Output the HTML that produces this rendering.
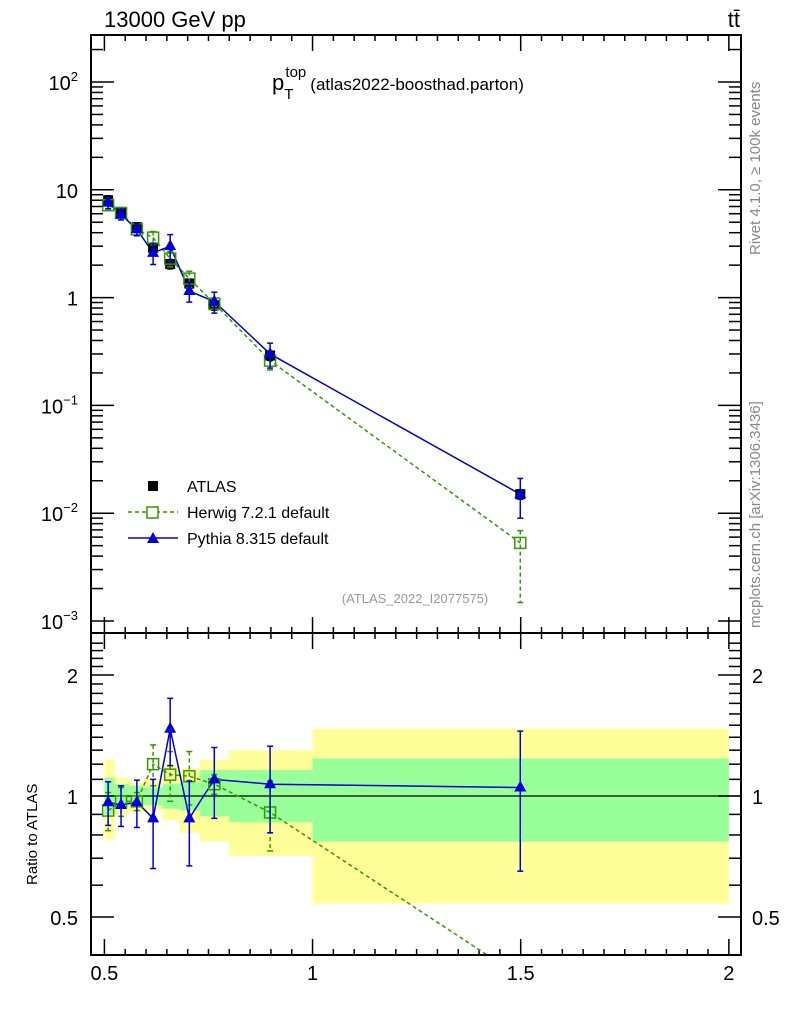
<!DOCTYPE html>
<html><head><meta charset="utf-8"><style>
body{margin:0;background:#fff;}
svg{display:block;font-family:"Liberation Sans",sans-serif;}
</style></head><body>
<svg id="chart" width="786" height="1024" viewBox="0 0 786 1024">
<defs><clipPath id="rclip"><rect x="91" y="633" width="650" height="322"/></clipPath></defs>
<g id="bands"></g>
<g id="grid"></g>
<g id="series"></g>
<g id="rseries" clip-path="url(#rclip)"></g>
<rect x="91" y="35" width="650" height="598" fill="none" stroke="#000" stroke-width="2"/>
<rect x="91" y="633" width="650" height="322" fill="none" stroke="#000" stroke-width="2"/>
<text x="104" y="27" font-size="22">13000 GeV pp</text>
<text x="740" y="27" font-size="22" text-anchor="end">tt̄</text>
<text x="272" y="90" font-size="22">p<tspan font-size="15" dy="9">T</tspan><tspan font-size="15" dx="-8" dy="-22">top</tspan><tspan font-size="17" dy="13" dx="4">(atlas2022-boosthad.parton)</tspan></text>
<text x="415" y="603" font-size="13" fill="#999" text-anchor="middle">(ATLAS_2022_I2077575)</text>
<text transform="translate(760,255) rotate(-90)" font-size="15" fill="#888">Rivet 4.1.0, ≥ 100k events</text>
<text transform="translate(760,628) rotate(-90)" font-size="15" fill="#888">mcplots.cern.ch [arXiv:1306.3436]</text>
<text transform="translate(37,885) rotate(-90)" font-size="15">Ratio to ATLAS</text>
<g>
<rect x="148" y="481" width="10" height="10" fill="#000"/>
<text x="187" y="492" font-size="16">ATLAS</text>
<line x1="128" y1="512" x2="178" y2="512" stroke="#339900" stroke-width="1.5" stroke-dasharray="4,3"/>
<rect x="147" y="507" width="11" height="11" fill="#fff" stroke="#339900" stroke-width="1.5"/>
<text x="187" y="518" font-size="16">Herwig 7.2.1 default</text>
<line x1="128" y1="538" x2="178" y2="538" stroke="#0000dd" stroke-width="1.5"/>
<polygon points="153,532 147,543 159,543" fill="#0000dd"/>
<text x="187" y="544" font-size="16">Pythia 8.315 default</text>
</g>
</svg>
<script>
const xs=[0.509,0.54,0.578,0.617,0.658,0.704,0.764,0.898,1.499];
const binEdges=[0.5,0.525,0.56,0.595,0.64,0.68,0.73,0.8,1.0,2.0];
const atlas=[8,6.2,4.5,2.9,2.05,1.35,0.85,0.29,0.015];
const herwig=[7.2,6.1,4.3,3.6,2.3,1.5,0.88,0.26,0.0053];
const pythia=[7.6,5.9,4.3,2.6,3.0,1.15,0.92,0.3,0.015];
const herwigRatio=[0.92,0.97,0.97,1.2,1.13,1.12,1.07,0.91,0.355];
const pythiaRatio=[0.965,0.95,0.965,0.88,1.47,0.88,1.1,1.07,1.05];
const herwigErr=[0.1,0.08,0.05,0.14,0.16,0.17,0.06,0.18,0.3];
const pythiaErr=[0.12,0.11,0.13,0.22,0.28,0.21,0.22,0.26,0.4];
const yellowUp=[1.23,1.11,1.08,1.1,1.2,1.17,1.23,1.3,1.47];
const yellowDn=[0.78,0.9,0.91,0.92,0.87,0.81,0.77,0.71,0.54];
const greenUp=[1.11,1.07,1.06,1.05,1.07,1.08,1.16,1.16,1.24];
const greenDn=[0.9,0.95,0.95,0.95,0.93,0.92,0.89,0.86,0.77];
const mainTicks=["10<tspan font-size='13' dy='-9'>2</tspan>","10","1","10<tspan font-size='13' dy='-9'>−1</tspan>","10<tspan font-size='13' dy='-9'>−2</tspan>","10<tspan font-size='13' dy='-9'>−3</tspan>"];
const xTickLabels=["0.5","1","1.5","2"];

const X=v=>104.4+(v-0.5)*416.3;
const Y=v=>82+(2-Math.log10(v))*107.8;
const R=v=>796-Math.log2(v)*121;
const NS="http://www.w3.org/2000/svg";
function mk(tag,at,parent){const e=document.createElementNS(NS,tag);for(const k in at)e.setAttribute(k,at[k]);document.getElementById(parent).appendChild(e);return e;}

for(let i=0;i<9;i++){
 const x1=X(binEdges[i]),x2=X(binEdges[i+1]);
 const y=mk('rect',{x:x1,y:R(yellowUp[i]),width:x2-x1,height:R(yellowDn[i])-R(yellowUp[i]),fill:'#ffff99'},'bands');
 
 
 const g=mk('rect',{x:x1,y:R(greenUp[i]),width:x2-x1,height:R(greenDn[i])-R(greenUp[i]),fill:'#99ff99'},'bands');
 
 
}
mk('line',{x1:91,x2:741,y1:R(1),y2:R(1),stroke:'#000','stroke-width':1.2},'bands');

for(const top of [[35,633],[633,955]]){
 for(let v=0.5;v<=2.001;v+=0.05){
  const maj=Math.abs(v*2-Math.round(v*2))<1e-6;
  const x=X(v),L=maj?16:6;
  mk('line',{x1:x,x2:x,y1:top[0],y2:top[0]+L,stroke:'#000','stroke-width':1.5},'grid');
  mk('line',{x1:x,x2:x,y1:top[1],y2:top[1]-L,stroke:'#000','stroke-width':1.5},'grid');
 }
}
xTickLabels.forEach((t,i)=>{const e=mk('text',{x:X(0.5+i*0.5),y:980,'font-size':20,'text-anchor':'middle'},'grid');e.textContent=t;
 
 });
for(let d=-3;d<=2;d++){
 for(let m=1;m<10;m++){
  const v=m*Math.pow(10,d);const y=Y(v);if(y<36)continue;
  const L=m==1?23:12;
  mk('line',{x1:91,x2:91+L,y1:y,y2:y,stroke:'#000','stroke-width':1.5},'grid');
  mk('line',{x1:741,x2:741-L,y1:y,y2:y,stroke:'#000','stroke-width':1.5},'grid');
 }
}
mainTicks.forEach((t,i)=>{const e=mk('text',{x:78,y:Y(Math.pow(10,2-i))+8,'font-size':20,'text-anchor':'end'},'grid');e.innerHTML=t;
 
 });
for(let v=0.5;v<=2.5;v+=0.1){
 const y=R(v);if(y<634||y>954)continue;
 const maj=Math.abs(v-0.5)<1e-6||Math.abs(v-1)<1e-6||Math.abs(v-2)<1e-6;
 const L=maj?23:12;
 mk('line',{x1:91,x2:91+L,y1:y,y2:y,stroke:'#000','stroke-width':1.5},'grid');
 mk('line',{x1:741,x2:741-L,y1:y,y2:y,stroke:'#000','stroke-width':1.5},'grid');
}
for(const v of [0.5,1,2]){
 for(const [x,a] of [[78,'end'],[752,'start']]){
  const e=mk('text',{x:x,y:R(v)+8,'font-size':20,'text-anchor':a},'grid');e.textContent=String(v);
  
  
 }
}

function polyline(vals,f,color,dash,name,parent){
 const p=mk('polyline',{points:xs.map((x,i)=>X(x)+','+f(vals[i])).join(' '),fill:'none',stroke:color,'stroke-width':1.5,'stroke-dasharray':dash},parent);
 
 
}
function errbar(x,y1,y2,color,dash,parent){
 mk('line',{x1:x,x2:x,y1:y1,y2:y2,stroke:color,'stroke-width':1.5,'stroke-dasharray':dash},parent);
 mk('line',{x1:x-3,x2:x+3,y1:y1,y2:y1,stroke:color,'stroke-width':1.5},parent);
 mk('line',{x1:x-3,x2:x+3,y1:y2,y2:y2,stroke:color,'stroke-width':1.5},parent);
}
polyline(herwig,Y,'#339900','4,3','herwig-line','series');
polyline(pythia,Y,'#0000dd','','pythia-line','series');
xs.forEach((x,i)=>{
 const px=X(x);
 errbar(px,Y(atlas[i]*1.1),Y(atlas[i]*0.9),'#000','','series');
 const a=mk('rect',{x:px-5,y:Y(atlas[i])-5,width:10,height:10,fill:'#000'},'series');
 
 
 errbar(px,Y(herwig[i]*(1+herwigErr[i])),Y(herwig[i]*Math.max(0.05,1-herwigErr[i]*(i==8?2.4:1))),'#339900','4,3','series');
 const h=mk('rect',{x:px-5.5,y:Y(herwig[i])-5.5,width:11,height:11,fill:'none',stroke:'#339900','stroke-width':1.5},'series');
 
 
 errbar(px,Y(pythia[i]*(1+pythiaErr[i])),Y(pythia[i]*(1-pythiaErr[i])),'#0000dd','','series');
 const py=Y(pythia[i]);
 const t=mk('polygon',{points:`${px},${py-7} ${px-6},${py+4} ${px+6},${py+4}`,fill:'#0000dd'},'series');
 
 
});
polyline(herwigRatio,R,'#339900','4,3','herwig-ratio-line','rseries');
polyline(pythiaRatio,R,'#0000dd','','pythia-ratio-line','rseries');
xs.forEach((x,i)=>{
 const px=X(x);
 if(R(herwigRatio[i])<950){
  errbar(px,R(herwigRatio[i]+herwigErr[i]),R(herwigRatio[i]-herwigErr[i]),'#339900','4,3','rseries');
  const h=mk('rect',{x:px-5.5,y:R(herwigRatio[i])-5.5,width:11,height:11,fill:'none',stroke:'#339900','stroke-width':1.5},'rseries');
  
  
 }
 errbar(px,R(pythiaRatio[i]+pythiaErr[i]),R(pythiaRatio[i]-pythiaErr[i]),'#0000dd','','rseries');
 const py=R(pythiaRatio[i]);
 const t=mk('polygon',{points:`${px},${py-7} ${px-6},${py+4} ${px+6},${py+4}`,fill:'#0000dd'},'rseries');
 
 
});
</script>
</body></html>
